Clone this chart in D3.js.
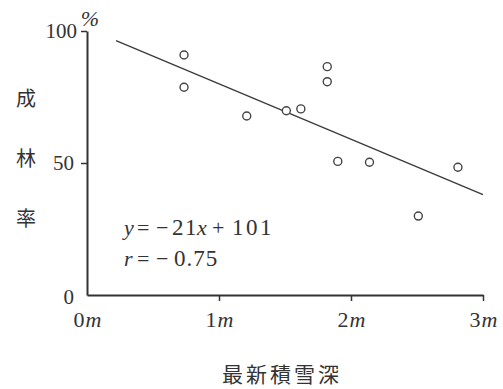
<!DOCTYPE html>
<html>
<head>
<meta charset="utf-8">
<script src="https://cdn.jsdelivr.net/npm/d3@7"></script>
<style>
  html, body { margin: 0; padding: 0; background: #fff; }
  svg { display: block; }
  text { fill: #333; }
</style>
</head>
<body>
<script>
// Snow depth (m) vs. forest establishment rate (%)
const snowDepth = [0.735, 0.735, 1.21, 1.51, 1.62, 1.82, 1.82, 1.90, 2.14, 2.51, 2.81];
const standRate = [90.9, 78.7, 67.8, 69.8, 70.5, 86.5, 80.8, 50.6, 50.3, 29.9, 48.4];
const xTicks = [0, 1, 2, 3];
const yTicks = [0, 50, 100];
// Regression y = -21x + 101, r = -0.75
const slope = -21, intercept = 101, corr = -0.75;
const fitRange = [0.22, 3.0];
const yTitle = ["成", "林", "率"];
const xTitle = "最新積雪深";

const W = 503, H = 389;
const svg = d3.select("body").append("svg").attr("width", W).attr("height", H);

const x = d3.scaleLinear().domain([0, 3]).range([87, 483]);
const y = d3.scaleLinear().domain([0, 100]).range([295, 31]);

const serif = "'Liberation Serif', 'DejaVu Serif', serif";
const cjk = "'Noto Sans CJK JP', sans-serif";

// x axis
const gx = svg.append("g").attr("transform", `translate(0,${y(0)})`)
  .call(d3.axisBottom(x).tickValues(xTicks).tickSize(6).tickSizeOuter(0).tickFormat(""));
gx.select(".domain").attr("stroke", "#333").attr("stroke-width", 2);
gx.selectAll(".tick line").attr("stroke", "#333").attr("stroke-width", 1.5)
  .filter(d => d === 0).remove();
gx.selectAll(".tick text").remove();
gx.selectAll(".tick").append("text")
  .attr("y", 32).attr("text-anchor", "middle")
  .style("font-family", serif).style("font-size", "22px")
  .each(function(d) {
    const t = d3.select(this);
    t.append("tspan").text(d);
    t.append("tspan").attr("font-style", "italic").attr("dx", 1).text("m");
  });

// y axis
const gy = svg.append("g").attr("transform", `translate(${x(0)},0)`)
  .call(d3.axisLeft(y).tickValues(yTicks).tickSize(6).tickSizeOuter(0));
gy.select(".domain").attr("stroke", "#333").attr("stroke-width", 2);
gy.selectAll(".tick line").attr("stroke", "#333").attr("stroke-width", 1.5)
  .filter(d => d === 0).remove();
gy.selectAll(".tick text")
  .style("font-family", serif).style("font-size", "21px").attr("fill", "#333")
  .attr("x", d => d === 100 ? -10 : -13)
  .attr("dy", d => d === 0 ? "0.42em" : "0.32em");

// percent unit above the top tick
svg.append("text")
  .attr("x", x(0) + 3).attr("y", y(100) - 5).attr("text-anchor", "middle")
  .style("font-family", serif).style("font-size", "22px").style("font-style", "italic")
  .text("%");

// regression line
svg.append("line")
  .attr("x1", x(fitRange[0])).attr("y1", y(slope * fitRange[0] + intercept))
  .attr("x2", x(fitRange[1])).attr("y2", y(slope * fitRange[1] + intercept))
  .attr("stroke", "#3a3a3a").attr("stroke-width", 1.3);

// observations
svg.append("g").selectAll("circle")
  .data(snowDepth.map((d, i) => [d, standRate[i]]))
  .join("circle")
  .attr("cx", d => x(d[0])).attr("cy", d => y(d[1])).attr("r", 4)
  .attr("fill", "#fff").attr("stroke", "#444").attr("stroke-width", 1.4);

// regression equation and correlation
function mathLine(yPos, parts) {
  const t = svg.append("text").attr("y", yPos)
    .style("font-family", serif).style("font-size", "22px");
  parts.forEach(p => {
    t.append("tspan").attr("x", p[0])
      .attr("font-style", p[2] ? "italic" : null)
      .style("letter-spacing", p[3] || null)
      .style("font-size", p[4] || null)
      .text(p[1]);
  });
}
mathLine(235, [
  [124, "y", true], [137, "="], [156, "\u2212"],
  [172, String(Math.abs(slope)), false, "1.5px", "23px"], [197, "x", true],
  [212, "+"], [232, String(intercept), false, "2.5px", "23px"]
]);
mathLine(266, [
  [124, "r", true], [137, "="], [156, "\u2212"],
  [174, Math.abs(corr).toFixed(2), false, "1px", "23px"]
]);

// y title, vertical characters
svg.append("g").selectAll("text")
  .data(yTitle).join("text")
  .attr("x", 26).attr("y", (d, i) => 99 + i * 60).attr("dy", "0.36em")
  .attr("text-anchor", "middle")
  .style("font-family", cjk).style("font-size", "20px")
  .text(d => d);

// x title
svg.append("text")
  .attr("x", 282).attr("y", 374).attr("dy", "0.36em").attr("text-anchor", "middle")
  .style("font-family", cjk).style("font-size", "21px")
  .style("letter-spacing", "3px")
  .text(xTitle);
</script>
</body>
</html>
